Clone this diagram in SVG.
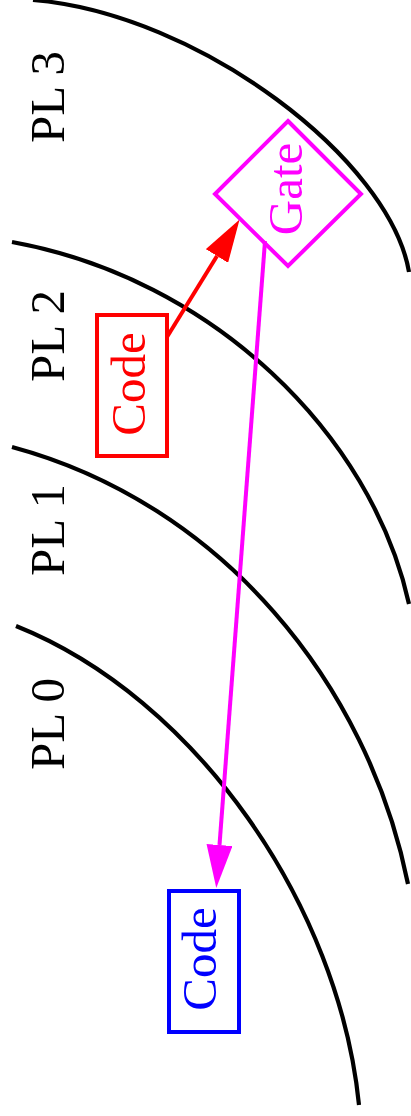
<svg xmlns="http://www.w3.org/2000/svg" width="411" height="1116" viewBox="0 0 411 1116">
<style>
.arc{fill:none;stroke:#000;stroke-width:4.2}
.lbl{font-family:"Liberation Serif",serif;font-size:49px;text-anchor:middle}
</style>
<defs>
<marker id="ahR" markerUnits="userSpaceOnUse" viewBox="0 0 43 26" refX="0" refY="13" markerWidth="43" markerHeight="26" orient="auto"><path d="M0,0 L43,13 L0,26 z" fill="#ff0000"/></marker>
<marker id="ahM" markerUnits="userSpaceOnUse" viewBox="0 0 43 26" refX="0" refY="13" markerWidth="43" markerHeight="26" orient="auto"><path d="M0,0 L43,13 L0,26 z" fill="#ff00ff"/></marker>
</defs>
<rect width="411" height="1116" fill="#fff"/>
<g id="rings">
<path class="arc" d="M33,0 C200,14 390,160 409,272"/>
<path class="arc" d="M12,242 C212,278 371.6,434 409,604"/>
<path class="arc" d="M12,447 C222,503.7 368,684 408,884"/>
<path class="arc" d="M16,626 C196,698 339,905 359,1105"/>
</g>
<g id="labels">
<text class="lbl" transform="translate(64,97) rotate(-90)" fill="#000">PL 3</text>
<text class="lbl" transform="translate(64,336) rotate(-90)" fill="#000">PL 2</text>
<text class="lbl" transform="translate(64,530) rotate(-90)" fill="#000">PL 1</text>
<text class="lbl" transform="translate(64,724) rotate(-90)" fill="#000">PL 0</text>
</g>
<g id="connectors">
<path d="M167,337 L217,256" fill="none" stroke="#ff0000" stroke-width="4" marker-end="url(#ahR)"/>
<path d="M265,241 L219.5,845" fill="none" stroke="#ff00ff" stroke-width="4" marker-end="url(#ahM)"/>
</g>
<g id="gate">
<polygon points="288,121 361,194 288,266 215,194" fill="none" stroke="#ff00ff" stroke-width="4"/>
<text class="lbl" transform="translate(302,189) rotate(-90)" fill="#ff00ff">Gate</text>
</g>
<g id="code2">
<rect x="97" y="315" width="70" height="141" fill="none" stroke="#ff0000" stroke-width="4"/>
<text class="lbl" transform="translate(145,384) rotate(-90)" fill="#ff0000">Code</text>
</g>
<g id="code0">
<rect x="169" y="891" width="70" height="141" fill="none" stroke="#0000ff" stroke-width="4"/>
<text class="lbl" transform="translate(216,959) rotate(-90)" fill="#0000ff">Code</text>
</g>
</svg>
